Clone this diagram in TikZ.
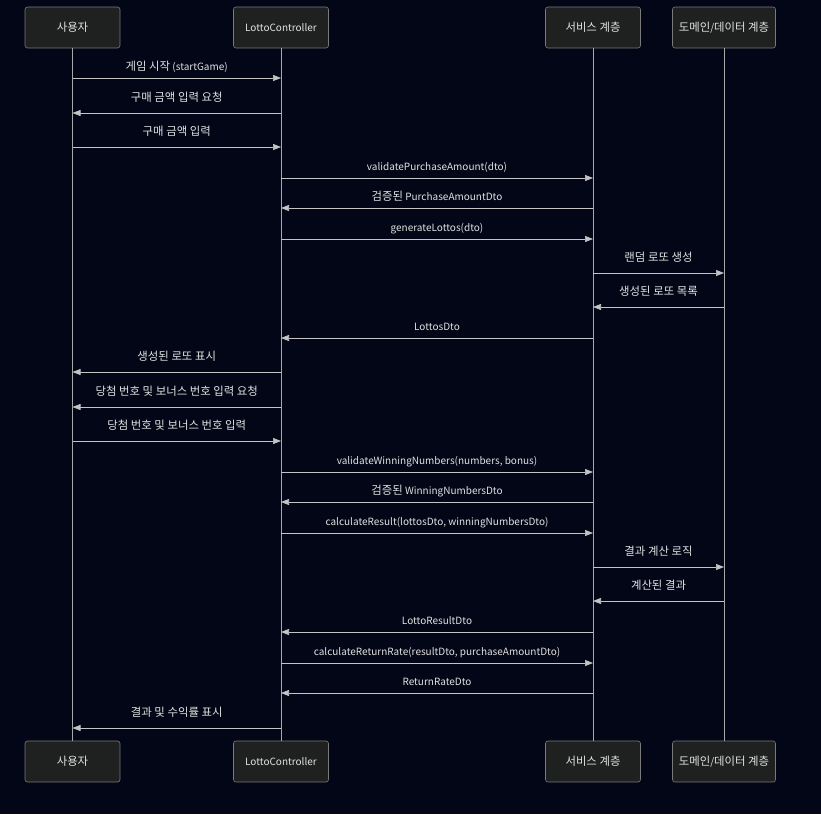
\documentclass[tikz,border=0pt]{standalone}
\usepackage{fontspec}
\setmainfont{Noto Sans CJK KR}
\usetikzlibrary{arrows.meta}
\definecolor{bgdark}{HTML}{020616}
\definecolor{boxfill}{HTML}{1F2020}
\definecolor{boxline}{HTML}{7A7A7A}
\definecolor{wire}{HTML}{C4C4C4}
\definecolor{lifewire}{HTML}{A8A8A8}
\definecolor{ink}{HTML}{E2E2E2}
\newcommand{\ko}[1]{{\fontsize{11.4}{12}\selectfont #1}}
\tikzstyle{actor}=[draw=boxline, fill=boxfill, rounded corners=2.5pt, minimum width=95pt, minimum height=41pt, text=ink, font=\fontsize{10}{12}\selectfont, semithick]
\tikzstyle{lifeline}=[lifewire, semithick]
\tikzstyle{message}=[wire, semithick, -{Triangle[length=8pt, width=6pt]}]
\tikzstyle{msg label}=[text=ink, font=\fontsize{10}{12}\selectfont, inner sep=0, anchor=base, yshift=8pt]
\tikzstyle{ko label}=[msg label, yshift=3.5pt]

\begin{document}
\begin{tikzpicture}[x=1pt, y=-1pt]
      \fill[bgdark] (0, 0) rectangle (821, 814);
      \useasboundingbox (0, 0) rectangle (821, 814);

      \node[actor] (user_top) at (72.5, 27.5) {\ko{사용자}};
      \node[actor] (ctrl_top) at (281, 27.5) {LottoController};
      \node[actor] (svc_top) at (593, 27.5) {\ko{서비스 계층}};
      \node[actor, minimum width=103pt] (dom_top) at (724, 27.5) {\ko{도메인}/\ko{데이터 계층}};

      \node[actor] (user_bot) at (72.5, 761.5) {\ko{사용자}};
      \node[actor] (ctrl_bot) at (281, 761.5) {LottoController};
      \node[actor] (svc_bot) at (593, 761.5) {\ko{서비스 계층}};
      \node[actor, minimum width=103pt] (dom_bot) at (724, 761.5) {\ko{도메인}/\ko{데이터 계층}};

      \draw[lifeline] (user_top) -- (user_bot);
      \draw[lifeline] (ctrl_top) -- (ctrl_bot);
      \draw[lifeline] (svc_top) -- (svc_bot);
      \draw[lifeline] (dom_top) -- (dom_bot);

      % purchase amount
      \draw[message] (user_top |- 0, 78) -- node[msg label] {\ko{게임 시작} (startGame)} (ctrl_top |- 0, 78);
      \draw[message] (ctrl_top |- 0, 113) -- node[ko label] {\ko{구매 금액 입력 요청}} (user_top |- 0, 113);
      \draw[message] (user_top |- 0, 147) -- node[ko label] {\ko{구매 금액 입력}} (ctrl_top |- 0, 147);
      \draw[message] (ctrl_top |- 0, 178) -- node[msg label] {validatePurchaseAmount(dto)} (svc_top |- 0, 178);
      \draw[message] (svc_top |- 0, 208) -- node[msg label] {\ko{검증된} PurchaseAmountDto} (ctrl_top |- 0, 208);

      % lotto generation
      \draw[message] (ctrl_top |- 0, 239) -- node[msg label] {generateLottos(dto)} (svc_top |- 0, 239);
      \draw[message] (svc_top |- 0, 273) -- node[ko label] {\ko{랜덤 로또 생성}} (dom_top |- 0, 273);
      \draw[message] (dom_top |- 0, 307) -- node[ko label] {\ko{생성된 로또 목록}} (svc_top |- 0, 307);
      \draw[message] (svc_top |- 0, 338) -- node[msg label] {LottosDto} (ctrl_top |- 0, 338);
      \draw[message] (ctrl_top |- 0, 372) -- node[ko label] {\ko{생성된 로또 표시}} (user_top |- 0, 372);

      % winning numbers
      \draw[message] (ctrl_top |- 0, 407) -- node[ko label] {\ko{당첨 번호 및 보너스 번호 입력 요청}} (user_top |- 0, 407);
      \draw[message] (user_top |- 0, 441) -- node[ko label] {\ko{당첨 번호 및 보너스 번호 입력}} (ctrl_top |- 0, 441);
      \draw[message] (ctrl_top |- 0, 472) -- node[msg label] {validateWinningNumbers(numbers, bonus)} (svc_top |- 0, 472);
      \draw[message] (svc_top |- 0, 502) -- node[msg label] {\ko{검증된} WinningNumbersDto} (ctrl_top |- 0, 502);

      % result
      \draw[message] (ctrl_top |- 0, 533) -- node[msg label] {calculateResult(lottosDto, winningNumbersDto)} (svc_top |- 0, 533);
      \draw[message] (svc_top |- 0, 567) -- node[ko label] {\ko{결과 계산 로직}} (dom_top |- 0, 567);
      \draw[message] (dom_top |- 0, 601) -- node[ko label] {\ko{계산된 결과}} (svc_top |- 0, 601);
      \draw[message] (svc_top |- 0, 632) -- node[msg label] {LottoResultDto} (ctrl_top |- 0, 632);
      \draw[message] (ctrl_top |- 0, 663) -- node[msg label] {calculateReturnRate(resultDto, purchaseAmountDto)} (svc_top |- 0, 663);
      \draw[message] (svc_top |- 0, 693) -- node[msg label] {ReturnRateDto} (ctrl_top |- 0, 693);
      \draw[message] (ctrl_top |- 0, 728) -- node[ko label] {\ko{결과 및 수익률 표시}} (user_top |- 0, 728);
    \end{tikzpicture}
\end{document}
